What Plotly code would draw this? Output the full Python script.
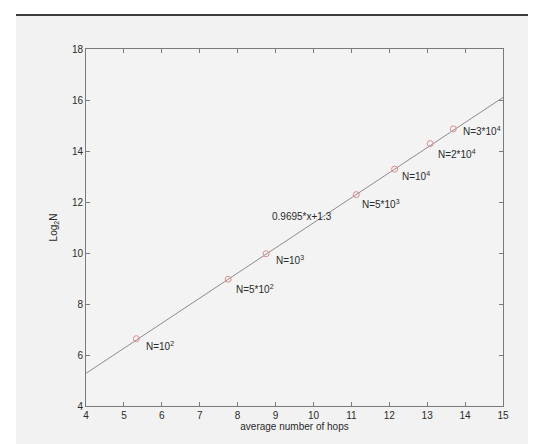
import plotly.graph_objects as go

# Data
hops = [5.33, 7.75, 8.75, 11.13, 12.14, 13.08, 13.69]
log2N = [6.64, 8.97, 9.97, 12.29, 13.29, 14.29, 14.87]
labels = ["N=10<sup>2</sup>", "N=5*10<sup>2</sup>", "N=10<sup>3</sup>", "N=5*10<sup>3</sup>",
          "N=10<sup>4</sup>", "N=2*10<sup>4</sup>", "N=3*10<sup>4</sup>"]
label_dx = [8, 6, 8, 4, 5, 6, 8]
label_dy = [-7, -10, -6, -9, -7, -10, -2]

fit_x = [4, 15]
fit_y = [5.28, 16.1]
fit_text = "0.9695*x+1.3"
fit_text_pos = (8.85, 11.44)

x_ticks = list(range(4, 16))
y_ticks = list(range(4, 19, 2))

FONT = "Liberation Sans, Arial, sans-serif"
TXT = "#2a2a2a"
AX = "#7a7a7a"

fig = go.Figure()
fig.add_trace(go.Scatter(x=fit_x, y=fit_y, mode="lines",
                         line=dict(color="#8e8a90", width=1), showlegend=False, hoverinfo="skip"))
fig.add_trace(go.Scatter(x=hops, y=log2N, mode="markers",
                         marker=dict(symbol="circle-open", size=6, color="#e08a8a", line=dict(width=1)),
                         showlegend=False))

annotations = []
for x, y, t, dx, dy in zip(hops, log2N, labels, label_dx, label_dy):
    annotations.append(dict(x=x, y=y, text=t, showarrow=False, xanchor="left", yanchor="middle",
                            xshift=dx, yshift=dy, font=dict(family=FONT, size=10, color=TXT)))
annotations.append(dict(x=fit_text_pos[0], y=fit_text_pos[1], text=fit_text, showarrow=False,
                        xanchor="left", yanchor="middle", font=dict(family=FONT, size=10, color=TXT)))

W, H = 536, 444
L, R, T, B = 78, 41, 41, 46
pw, ph = W - L - R, H - T - B

def px2paper_x(px):
    return (px - L) / pw

def px2paper_y(py):
    return 1 - (py - T) / ph

shapes = [
    dict(type="rect", xref="paper", yref="paper", x0=px2paper_x(0), x1=px2paper_x(W),
         y0=px2paper_y(7), y1=px2paper_y(0), fillcolor="white", line=dict(width=0), layer="below"),
    dict(type="rect", xref="paper", yref="paper", x0=px2paper_x(0), x1=px2paper_x(8),
         y0=px2paper_y(H), y1=px2paper_y(0), fillcolor="white", line=dict(width=0), layer="below"),
    dict(type="line", xref="paper", yref="paper", x0=px2paper_x(8), x1=px2paper_x(W),
         y0=px2paper_y(7), y1=px2paper_y(7), line=dict(color="black", width=1.5)),
]

fig.update_layout(
    width=W, height=H,
    margin=dict(l=L, r=R, t=T, b=B),
    paper_bgcolor="#f2f2f2", plot_bgcolor="#f3f3f3",
    font=dict(family=FONT, size=10, color=TXT),
    annotations=annotations, shapes=shapes,
    xaxis=dict(range=[4, 15], tickvals=x_ticks, ticks="inside", ticklen=4, tickcolor=AX,
               showline=True, linecolor=AX, linewidth=1, mirror="ticks", showgrid=False,
               zeroline=False, tickfont=dict(size=10, color=TXT),
               title=dict(text="average number of hops", font=dict(size=10, color=TXT), standoff=0)),
    yaxis=dict(range=[4, 18], tickvals=y_ticks, ticks="inside", ticklen=4, tickcolor=AX,
               showline=True, linecolor=AX, linewidth=1, mirror="ticks", showgrid=False,
               zeroline=False, tickfont=dict(size=10, color=TXT),
               title=dict(text="Log<sub>2</sub>N", font=dict(size=10, color=TXT), standoff=12)),
)

fig.write_html("out.html")
